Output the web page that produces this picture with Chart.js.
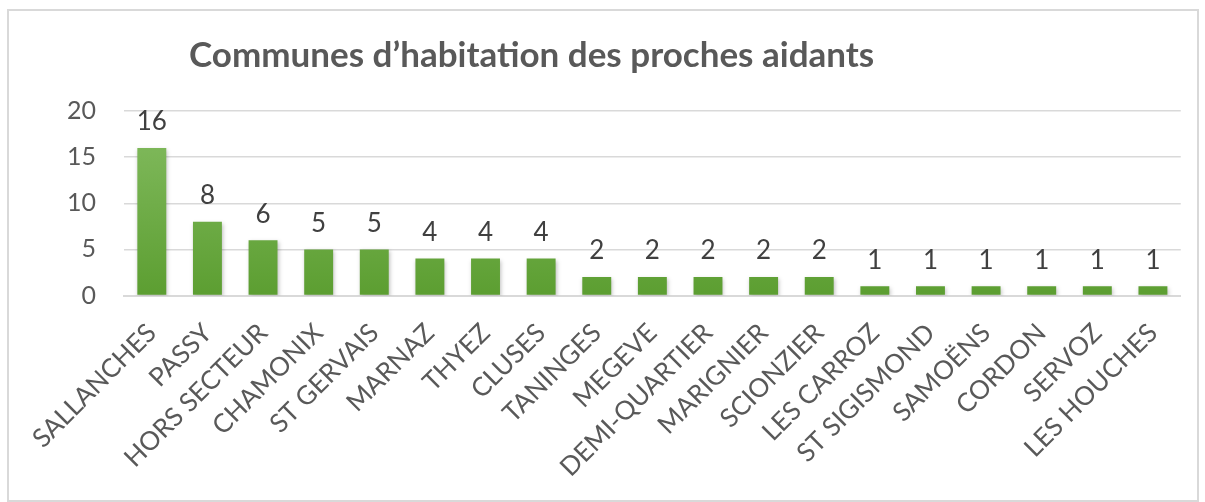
<!DOCTYPE html>
<html>
<head>
<meta charset="utf-8">
<script src="https://cdn.jsdelivr.net/npm/chart.js@4"></script>
<style>
  body { margin: 0; background: #fff; }
  #box { position: absolute; left: 7px; top: 9px; width: 1188px; height: 489px; border: 2px solid #d9d9d9; }
</style>
</head>
<body>
<div id="box"><canvas id="chart" width="1188" height="489"></canvas></div>
<script>
const communes = ["SALLANCHES", "PASSY", "HORS SECTEUR", "CHAMONIX", "ST GERVAIS", "MARNAZ", "THYEZ", "CLUSES", "TANINGES", "MEGEVE", "DEMI-QUARTIER", "MARIGNIER", "SCIONZIER", "LES CARROZ", "ST SIGISMOND", "SAMOËNS", "CORDON", "SERVOZ", "LES HOUCHES"];
const nbAidants = [16, 8, 6, 5, 5, 4, 4, 4, 2, 2, 2, 2, 2, 1, 1, 1, 1, 1, 1];
const titre = "Communes d\u2019habitation des proches aidants";

// titre dessiné à la main (aligné comme dans Excel)
const titrePlugin = {
  id: "titre",
  afterDraw(chart) {
    const ctx = chart.ctx;
    ctx.save();
    ctx.font = "bold 35px Lato";
    ctx.fillStyle = "#595959";
    ctx.textBaseline = "middle";
    ctx.fillText(titre, 180, 45);
    ctx.restore();
  }
};

// étiquettes de valeurs au-dessus des barres
const etiquettes = {
  id: "etiquettes",
  afterDatasetsDraw(chart) {
    const ctx = chart.ctx;
    const meta = chart.getDatasetMeta(0);
    ctx.save();
    ctx.font = "26px Lato";
    ctx.fillStyle = "#404040";
    ctx.textAlign = "center";
    ctx.textBaseline = "bottom";
    meta.data.forEach((bar, i) => {
      ctx.fillText(nbAidants[i], bar.x, bar.y - 13);
    });
    ctx.restore();
  }
};

// ombre légère sous les barres
const ombre = {
  id: "ombre",
  beforeDatasetsDraw(chart) {
    const ctx = chart.ctx;
    ctx.save();
    ctx.shadowColor = "rgba(0,0,0,0.25)";
    ctx.shadowBlur = 4;
    ctx.shadowOffsetX = 1;
    ctx.shadowOffsetY = 2;
  },
  afterDatasetsDraw(chart) {
    chart.ctx.restore();
  }
};

const ctx = document.getElementById("chart").getContext("2d");
new Chart(ctx, {
  type: "bar",
  data: {
    labels: communes,
    datasets: [{
      data: nbAidants,
      backgroundColor: (c) => {
        const area = c.chart.chartArea;
        if (!area) return "#70ad47";
        const g = c.chart.ctx.createLinearGradient(0, area.top, 0, area.bottom);
        g.addColorStop(0, "#85bd62");
        g.addColorStop(1, "#5c9e31");
        return g;
      },
      barPercentage: 0.52,
      categoryPercentage: 1.0,
    }]
  },
  options: {
    responsive: false,
    animation: false,
    layout: { padding: { top: 100, right: 0, left: 30, bottom: 20 } },
    plugins: {
      legend: { display: false },
      tooltip: { enabled: false },
    },
    scales: {
      x: {
        grid: { display: false, drawTicks: false },
        border: { color: "#d9d9d9", width: 2 },
        ticks: {
          color: "#595959",
          font: { family: "Lato", size: 26 },
          maxRotation: 45,
          minRotation: 45,
          padding: 22,
          autoSkip: false,
        },
      },
      y: {
        min: 0,
        max: 20,
        grid: { color: "#d9d9d9", lineWidth: 1.5, drawTicks: false },
        border: { display: false },
        ticks: {
          stepSize: 5,
          color: "#595959",
          font: { family: "Lato", size: 25 },
          padding: 28,
        },
      },
    },
  },
  plugins: [ombre, etiquettes, titrePlugin],
});
</script>
</body>
</html>
